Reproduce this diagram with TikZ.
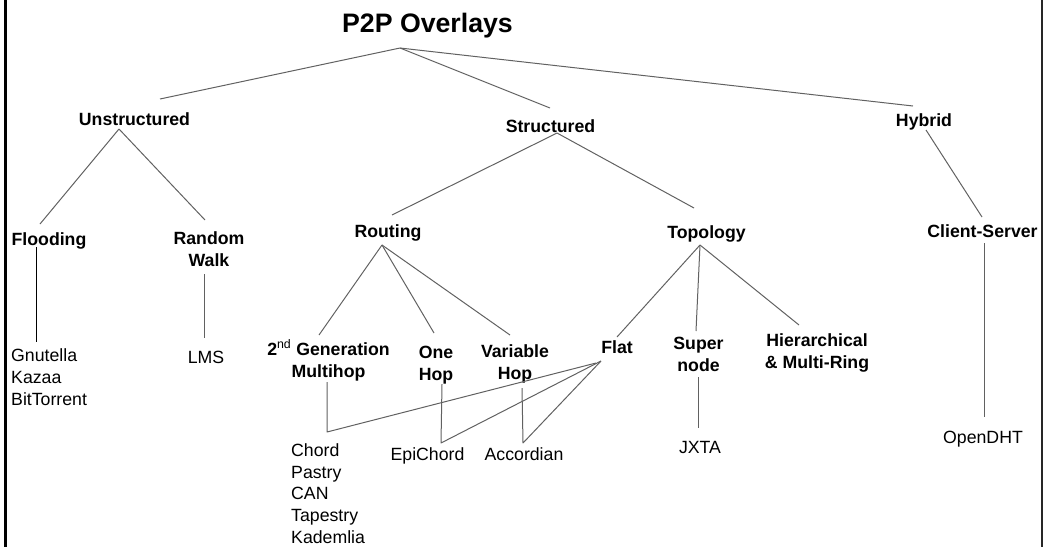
\documentclass[tikz,border=0pt]{standalone}
\usepackage{fontspec}
\setmainfont{Liberation Sans}

\begin{document}
\begin{tikzpicture}[x=1pt,y=-1pt,line join=round,
    head/.style={font=\bfseries\fontsize{17.7}{22}\selectfont,inner sep=0pt,anchor=base,align=center},
    leaf/.style={font=\fontsize{17.7}{21.6}\selectfont,inner sep=0pt,anchor=base},
    link/.style={draw=black!62,line width=1pt}]
      \useasboundingbox (0,0) rectangle (1043,547);
      \draw[line width=3pt] (5.5,0)--(5.5,547);
      \draw[line width=2pt,black!85] (1042,0)--(1042,547);
      % levels 0 and 1
      \node[font=\bfseries\fontsize{26.7}{32}\selectfont,inner sep=0pt,anchor=base] (root) at (427.5,32) {P2P Overlays};
      \node[head] (unstr) at (134.5,125) {Unstructured};
      \node[head] (str) at (550.5,132) {Structured};
      \node[head] (hybrid) at (924,126) {Hybrid};
      % level 2 (base = last line)
      \node[head] (flood) at ( 49,245) {Flooding};
      \node[head] (rwalk) at (209,266) {Random\\Walk};
      \node[head] (routing) at (388,237) {Routing};
      \node[head] (topo) at (706.5,238) {Topology};
      \node[head] (cs) at (982.5,237) {Client-Server};
      % level 3
      \node[head] (gen) at (328.5,377) {2\textsuperscript{\mdseries nd} Generation\\Multihop};
      \node[head] (onehop) at (436,380) {One\\Hop};
      \node[head] (varhop) at (515,379) {Variable\\Hop};
      \node[head] (flat) at (617,353) {Flat};
      \node[head] (super) at (698.5,371) {Super\\node};
      \node[head] (hier) at (817,368) {Hierarchical\\\& Multi-Ring};
      % systems
      \node[leaf,anchor=base west,align=left] (gnut) at (11,405) {Gnutella\\Kazaa\\BitTorrent};
      \node[leaf] (lms) at (206,363) {LMS};
      \node[leaf,anchor=base west,align=left] (chord) at (291,543) {Chord\\Pastry\\CAN\\Tapestry\\Kademlia};
      \node[leaf] (epi) at (427.5,460) {EpiChord};
      \node[leaf] (accord) at (524,460) {Accordian};
      \node[leaf] (jxta) at (700,453) {JXTA};
      \node[leaf] (dht) at (983,443) {OpenDHT};
      % forks
      \coordinate (f0) at ([shift={(-27.5,16)}]root.base);
      \coordinate (f1) at ([shift={(-15.5,4)}]unstr.base);
      \coordinate (f2) at ([shift={(6.5,1)}]str.base);
      \coordinate (f3) at ([shift={(2,4)}]hybrid.base);
      \coordinate (f4) at ([shift={(-6,8)}]routing.base);
      \coordinate (f5) at ([shift={(-6.5,7)}]topo.base);
      \coordinate (j1) at ([shift={(36,-111)}]chord.base west);
      \coordinate (j2) at ([shift={(13.5,-17)}]epi.base);
      \coordinate (j3) at ([shift={(-1,-17)}]accord.base);
      % connectors
      \draw[link] (f0)--([shift={(25.5,-26)}]unstr.base);
      \draw[link] (f0)--([shift={(-0.5,-24)}]str.base);
      \draw[link] (f0)--([shift={(-11,-20)}]hybrid.base);
      \draw[link] (f1)--([shift={(-9,-21)}]flood.base);
      \draw[link] (f1)--([shift={(-4,-46)}]rwalk.base);
      \draw[link,draw=black] ([shift={(-13,2)}]flood.base)--([shift={(25,-63)}]gnut.base west);
      \draw[link] ([shift={(-5,8)}]rwalk.base)--([shift={(-2,-25)}]lms.base);
      \draw[link] (f2)--([shift={(4,-22)}]routing.base);
      \draw[link] (f2)--([shift={(-12.5,-30)}]topo.base);
      \draw[link] (f4)--([shift={(-9.5,-42)}]gen.base);
      \draw[link] (f4)--([shift={(-2,-47)}]onehop.base);
      \draw[link] (f4)--([shift={(-5,-44)}]varhop.base);
      \draw[link] ([shift={(-1.5,5)}]gen.base)--(j1)--([shift={(-21,10)}]flat.base);
      \draw[link] ([shift={(6,4)}]onehop.base)--(j2)--([shift={(-16,8)}]flat.base);
      \draw[link] ([shift={(7,9)}]varhop.base)--(j3)--([shift={(-16,8)}]flat.base);
      \draw[link] (f5)--([shift={(0,-16)}]flat.base);
      \draw[link] (f5)--([shift={(-2.5,-40)}]super.base);
      \draw[link] (f5)--([shift={(-18,-43)}]hier.base);
      \draw[link] ([shift={(-0.5,6)}]super.base)--([shift={(-2,-25)}]jxta.base);
      \draw[link] (f3)--([shift={(-0.5,-20)}]cs.base);
      \draw[link] ([shift={(1.5,6)}]cs.base)--([shift={(1,-26)}]dht.base);
\end{tikzpicture}
\end{document}
